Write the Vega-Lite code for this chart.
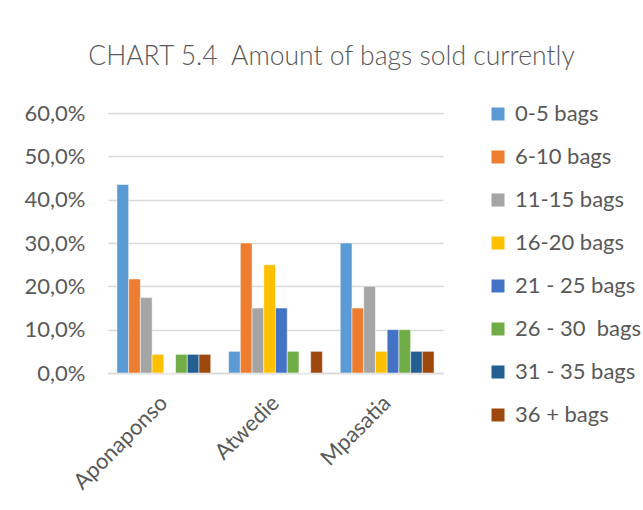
{
  "$schema": "https://vega.github.io/schema/vega-lite/v6.json",
  "width": 335,
  "height": 260,
  "autosize": "none",
  "padding": {"left": 108, "top": 113, "right": 200, "bottom": 137},
  "background": "white",
  "title": {
    "text": "CHART 5.4\u00a0 Amount of bags sold currently",
    "font": "Lato",
    "fontWeight": 300,
    "fontSize": 26.5,
    "color": "#595959",
    "anchor": "middle",
    "dx": 56,
    "offset": 32
  },
  "data": {
    "values": [
      {"site": "Aponaponso", "range": "0-5 bags", "pct": 43.5},
      {"site": "Aponaponso", "range": "6-10 bags", "pct": 21.7},
      {"site": "Aponaponso", "range": "11-15 bags", "pct": 17.4},
      {"site": "Aponaponso", "range": "16-20 bags", "pct": 4.3},
      {"site": "Aponaponso", "range": "21 - 25 bags", "pct": 0},
      {"site": "Aponaponso", "range": "26 - 30  bags", "pct": 4.3},
      {"site": "Aponaponso", "range": "31 - 35 bags", "pct": 4.3},
      {"site": "Aponaponso", "range": "36 + bags", "pct": 4.3},
      {"site": "Atwedie", "range": "0-5 bags", "pct": 5},
      {"site": "Atwedie", "range": "6-10 bags", "pct": 30},
      {"site": "Atwedie", "range": "11-15 bags", "pct": 15},
      {"site": "Atwedie", "range": "16-20 bags", "pct": 25},
      {"site": "Atwedie", "range": "21 - 25 bags", "pct": 15},
      {"site": "Atwedie", "range": "26 - 30  bags", "pct": 5},
      {"site": "Atwedie", "range": "31 - 35 bags", "pct": 0},
      {"site": "Atwedie", "range": "36 + bags", "pct": 5},
      {"site": "Mpasatia", "range": "0-5 bags", "pct": 30},
      {"site": "Mpasatia", "range": "6-10 bags", "pct": 15},
      {"site": "Mpasatia", "range": "11-15 bags", "pct": 20},
      {"site": "Mpasatia", "range": "16-20 bags", "pct": 5},
      {"site": "Mpasatia", "range": "21 - 25 bags", "pct": 10},
      {"site": "Mpasatia", "range": "26 - 30  bags", "pct": 10},
      {"site": "Mpasatia", "range": "31 - 35 bags", "pct": 5},
      {"site": "Mpasatia", "range": "36 + bags", "pct": 5}
    ]
  },
  "mark": {"type": "bar", "stroke": "white", "strokeWidth": 0.5},
  "encoding": {
    "x": {
      "field": "site",
      "type": "nominal",
      "sort": ["Aponaponso", "Atwedie", "Mpasatia"],
      "scale": {"paddingInner": 0.16, "paddingOuter": 0.08},
      "axis": {
        "title": null,
        "labelAngle": -45,
        "labelAlign": "right",
        "labelBaseline": "middle",
        "labelFont": "Lato",
        "labelFontSize": 22,
        "labelColor": "#595959",
        "ticks": false,
        "domainColor": "#d9d9d9",
        "domainWidth": 1.5,
        "labelPadding": 26
      }
    },
    "xOffset": {
      "field": "range",
      "type": "nominal",
      "sort": ["0-5 bags", "6-10 bags", "11-15 bags", "16-20 bags", "21 - 25 bags", "26 - 30  bags", "31 - 35 bags", "36 + bags"],
      "scale": {"paddingInner": 0, "paddingOuter": 0}
    },
    "y": {
      "field": "pct",
      "type": "quantitative",
      "scale": {"domain": [0, 60]},
      "axis": {
        "title": null,
        "values": [0, 10, 20, 30, 40, 50, 60],
        "labelExpr": "replace(format(datum.value, '.1f'), '.', ',') + '%'",
        "labelFont": "Lato",
        "labelFontSize": 22,
        "labelColor": "#595959",
        "ticks": false,
        "domain": false,
        "gridColor": "#d9d9d9",
        "gridWidth": 1.5,
        "labelPadding": 23
      }
    },
    "color": {
      "field": "range",
      "type": "nominal",
      "sort": ["0-5 bags", "6-10 bags", "11-15 bags", "16-20 bags", "21 - 25 bags", "26 - 30  bags", "31 - 35 bags", "36 + bags"],
      "scale": {
        "domain": ["0-5 bags", "6-10 bags", "11-15 bags", "16-20 bags", "21 - 25 bags", "26 - 30  bags", "31 - 35 bags", "36 + bags"],
        "range": ["#5B9BD5", "#ED7D31", "#A5A5A5", "#FFC000", "#4472C4", "#70AD47", "#255E91", "#9E480E"]
      },
      "legend": {
        "title": null,
        "orient": "none",
        "legendX": 379,
        "legendY": -10,
        "symbolType": "square",
        "symbolSize": 169,
        "symbolStrokeWidth": 0,
        "labelFont": "Lato",
        "labelFontSize": 22,
        "labelColor": "#595959",
        "labelOffset": 6,
        "rowPadding": 21,
        "labelLimit": 200,
        "labelExpr": "replace(datum.label, '30  bags', '30\u00a0 bags')"
      }
    }
  },
  "config": {
    "view": {"stroke": null}
  }
}
